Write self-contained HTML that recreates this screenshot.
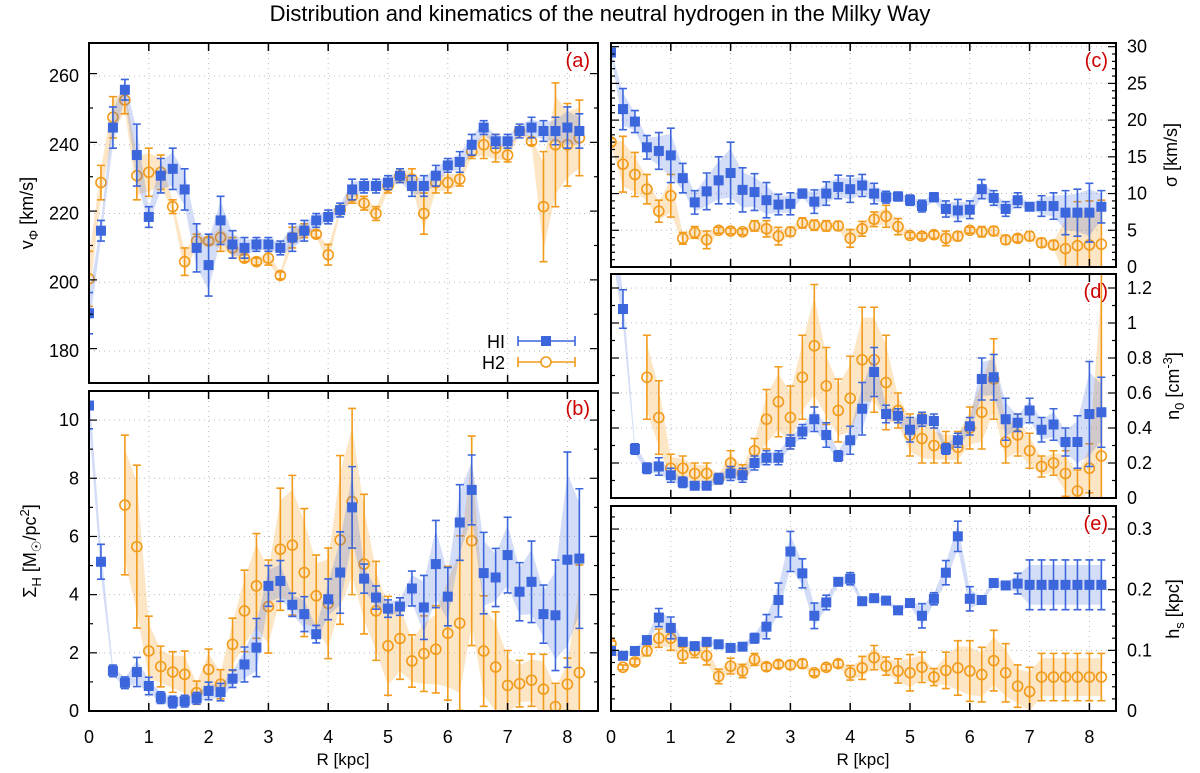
<!DOCTYPE html>
<html><head><meta charset="utf-8"><style>
html,body{margin:0;padding:0;background:#fff;width:1200px;height:773px;overflow:hidden;}
svg{display:block;font-family:"Liberation Sans",sans-serif;}
</style></head><body>
<svg id="chart" width="1200" height="773" viewBox="0 0 1200 773" xmlns="http://www.w3.org/2000/svg">
<text x="600" y="21" text-anchor="middle" font-size="22">Distribution and kinematics of the neutral hydrogen in the Milky Way</text>
<g id="root"></g>
<text x="343" y="765" text-anchor="middle" font-size="17">R [kpc]</text>
<text x="863" y="765" text-anchor="middle" font-size="17">R [kpc]</text>
</svg>
<script>
const R = [0,0.2,0.4,0.6,0.8,1.0,1.2,1.4,1.6,1.8,2.0,2.2,2.4,2.6,2.8,3.0,3.2,3.4,3.6,3.8,4.0,4.2,4.4,4.6,4.8,5.0,5.2,5.4,5.6,5.8,6.0,6.2,6.4,6.6,6.8,7.0,7.2,7.4,7.6,7.8,8.0,8.2];
const xTicks = [0,1,2,3,4,5,6,7,8];
// panel a
const vHI = [191,215,245,256,237,219,231,233,227,210,205,218,211,210,211,211,210,213,215,218,219,221,227,228,228,229,231,228,228,231,234,235,240,245,241,241,244,245,244,244,245,244];
const vHIe = [6,3,6,3,9,3,5,6,6,7,9,7,4,3,2,2,2,4,3,2,2,2,3,2,2,2,2,3,3,3,2,3,3,2,2,2,2,3,3,4,6,5];
const vH2 = [201,229,248,253,231,232,232,222,206,212,212,213,210,207,206,207,202,213,215,214,208,221,225,223,220,228,231,230,220,229,229,230,238,240,239,237,244,241,222,240,240,242];
const vH2e = [8,5,6,4,7,7,5,2,4,2,1,4,3,1,1,2,1,3,2,1,3,1,2,2,2,2,2,3,6,3,3,2,2,4,4,2,1,1,16,18,12,11];
const vTicks = [180,200,220,240,260];
// panel b
const sHI = [10.5,5.13,1.38,0.97,1.34,0.86,0.46,0.31,0.34,0.44,0.69,0.65,1.11,1.6,2.18,4.3,4.47,3.65,3.33,2.64,3.84,4.76,7.0,4.55,3.9,3.52,3.59,4.21,3.56,5.05,3.93,6.48,7.6,4.74,4.59,5.36,4.1,4.44,3.33,3.29,5.2,5.24];
const sHIe = [0.8,0.6,0.2,0.2,0.5,0.3,0.2,0.2,0.2,0.2,0.3,0.3,0.3,0.6,1.0,0.7,0.7,0.4,0.6,0.3,0.7,1.4,1.4,0.5,0.4,0.3,0.3,0.6,1.1,1.5,1.0,1.3,1.2,1.4,1.0,1.3,1.0,1.4,1.0,1.9,3.7,2.4];
const sH2 = [null,null,null,7.08,5.65,2.06,1.53,1.34,1.26,0.63,1.43,0.92,2.29,3.44,4.3,3.59,5.56,5.7,4.76,3.96,3.7,5.88,7.2,5.05,3.44,2.24,2.49,1.72,1.97,2.12,2.67,3.02,5.85,2.06,1.51,0.88,0.94,1.06,0.75,0.15,0.92,1.32];
const sH2e = [0,0,0,2.4,2.8,1.2,0.7,0.7,0.8,0.4,0.7,0.5,0.9,1.4,1.8,1.6,2.1,2.4,2.2,1.4,1.9,2.9,3.2,2.4,1.7,1.7,1.4,0.9,1.3,1.5,2.3,3.0,3.6,1.9,1.9,1.2,0.8,0.9,1.2,0.8,0.9,3.7];
const sTicks = [0,2,4,6,8,10];
// panel c
const dHI = [29.2,21.5,19.8,16.3,15.8,15.2,12.1,8.8,10.3,11.8,12.8,10.5,10.2,9.1,8.5,8.6,10,8.9,10,10.9,10.6,11.1,10,9.5,9.6,9.1,8.3,9.5,7.9,7.7,7.8,10.6,9.4,7.9,9.1,8.2,8.3,8.3,7.4,7.4,7.4,8.2];
const dHIe = [0.5,2.8,1.5,1.6,2.5,3.7,2.0,1.6,2.5,3.2,4.2,3.0,2.5,2.4,1.4,1.5,0.6,1.6,1.6,1.6,1.8,1.5,1.4,0.8,0.6,0.7,0.8,0.6,1.1,1.5,1.2,1.3,1.0,1.0,1.0,0.4,1.4,1.8,3.0,3.2,4.0,2.2];
const dH2 = [17,14,12.6,10.6,7.6,9.7,3.9,4.7,3.7,5,4.9,4.8,5.6,5.2,4.2,4.8,6,5.7,5.6,5.6,3.9,5.2,6.5,6.9,5.5,4.3,4.2,4.4,3.9,4.2,5,4.8,4.9,3.7,3.9,4.2,3.3,3,2.5,2.9,3,3.1];
const dH2e = [0.5,3.8,3.0,2.0,1.5,2.9,0.8,0.8,1.2,0.4,0.4,0.4,0.7,1.1,1.2,0.6,0.7,0.7,0.7,0.6,1.2,1.0,1.0,1.5,1.1,0.4,0.4,0.5,1.0,0.6,0.4,0.7,0.6,0.6,0.5,0.6,0.6,0.6,5,6,6,6];
const dTicks = [0,5,10,15,20,25,30];
// panel d
const nHI = [1.6,1.08,0.28,0.17,0.18,0.13,0.09,0.07,0.07,0.11,0.14,0.13,0.2,0.23,0.23,0.32,0.38,0.45,0.36,0.24,0.33,0.51,0.72,0.48,0.47,0.39,0.45,0.44,0.28,0.33,0.41,0.68,0.69,0.45,0.43,0.5,0.39,0.42,0.32,0.32,0.48,0.49];
const nHIe = [0.2,0.11,0.03,0.03,0.05,0.04,0.03,0.02,0.02,0.03,0.04,0.04,0.04,0.04,0.04,0.04,0.04,0.07,0.07,0.03,0.08,0.15,0.14,0.05,0.04,0.07,0.04,0.04,0.03,0.04,0.05,0.12,0.13,0.12,0.05,0.07,0.07,0.09,0.08,0.15,0.3,0.2];
const nH2 = [null,null,null,0.69,0.46,0.17,0.17,0.14,0.14,0.11,0.2,0.14,0.27,0.45,0.55,0.46,0.69,0.87,0.64,0.5,0.57,0.79,0.79,0.66,0.5,0.36,0.34,0.3,0.29,0.29,0.4,0.49,0.68,0.32,0.36,0.27,0.18,0.2,0.14,0.04,0.17,0.24];
const nH2e = [0,0,0,0.24,0.21,0.08,0.07,0.06,0.06,0.03,0.07,0.05,0.07,0.17,0.2,0.18,0.24,0.35,0.22,0.18,0.24,0.3,0.3,0.27,0.1,0.12,0.14,0.1,0.09,0.09,0.12,0.21,0.23,0.12,0.12,0.1,0.06,0.07,0.13,0.12,0.14,1.2];
const nTicks = [0,0.2,0.4,0.6,0.8,1,1.2];
// panel e
const hHI = [0.099,0.091,0.099,0.117,0.154,0.137,0.114,0.107,0.114,0.11,0.104,0.106,0.12,0.139,0.183,0.263,0.227,0.157,0.179,0.213,0.218,0.181,0.186,0.182,0.166,0.178,0.157,0.185,0.228,0.288,0.185,0.183,0.211,0.207,0.21,0.208,0.208,0.208,0.208,0.208,0.208,0.208];
const hHIe = [0.005,0.005,0.005,0.006,0.015,0.018,0.005,0.005,0.005,0.005,0.005,0.005,0.008,0.02,0.028,0.033,0.024,0.021,0.012,0.006,0.01,0.005,0.006,0.005,0.005,0.005,0.02,0.01,0.02,0.025,0.02,0.006,0.006,0.006,0.017,0.041,0.041,0.041,0.041,0.041,0.041,0.041];
const hH2 = [0.111,0.072,0.081,0.099,0.12,0.12,0.092,0.1,0.091,0.057,0.074,0.066,0.085,0.073,0.077,0.076,0.078,0.063,0.072,0.078,0.063,0.071,0.088,0.074,0.066,0.063,0.072,0.056,0.067,0.071,0.066,0.06,0.083,0.063,0.041,0.032,0.056,0.056,0.056,0.056,0.056,0.056];
const hH2e = [0.004,0.004,0.005,0.008,0.015,0.02,0.013,0.012,0.015,0.012,0.013,0.011,0.01,0.006,0.006,0.007,0.007,0.005,0.005,0.006,0.012,0.019,0.02,0.015,0.02,0.03,0.025,0.014,0.03,0.045,0.05,0.045,0.05,0.048,0.035,0.04,0.039,0.039,0.039,0.039,0.039,0.039];
const hTicks = [0,0.1,0.2,0.3];

const NS='http://www.w3.org/2000/svg';
const root=document.getElementById('root');
function mk(tag,attrs,parent){const e=document.createElementNS(NS,tag);for(const k in attrs)e.setAttribute(k,attrs[k]);(parent||root).appendChild(e);return e;}
const BLUE='#3c66dc', ORANGE='#f29a1a';
const KPX=59.8;
let clipId=0;
function panel(cfg){
  const {name,x0,x1,y0,y1,ymin,ymax,ticks,minor,side,label,fmt,s1,e1,s2,e2}=cfg;
  const g=mk('g',{});
  
  
  const xs=r=>x0+r*KPX;
  const ys=v=>y1-(v-ymin)/(ymax-ymin)*(y1-y0);
  const cid='clip'+(clipId++);
  const cp=mk('clipPath',{id:cid},g);mk('rect',{x:x0,y:y0,width:x1-x0,height:y1-y0},cp);
  xTicks.forEach(t=>{if(t>0)mk('line',{x1:xs(t),x2:xs(t),y1:y0,y2:y1,stroke:'#bbb','stroke-dasharray':'1,4','stroke-width':1},g);});
  ticks.forEach(t=>{const y=ys(t);if(y>y0+2&&y<y1-2)mk('line',{x1:x0,x2:x1,y1:y,y2:y,stroke:'#bbb','stroke-dasharray':'1,4','stroke-width':1},g);});
  const dg=mk('g',{'clip-path':'url(#'+cid+')'},g);
  function series(vals,errs,col,isSq,nm){
    const sg=mk('g',{},dg);
    
    
    let up=[],dn=[];
    vals.forEach((v,i)=>{if(v==null)return;const w=Math.max(errs[i]*0.8,0);up.push(xs(R[i])+','+ys(v+w));dn.unshift(xs(R[i])+','+ys(v-w));});
    const band=mk('polygon',{points:up.concat(dn).join(' '),fill:col,'fill-opacity':isSq?0.22:0.25,stroke:'none'},sg);
    
    
    vals.forEach((v,i)=>{
      if(v==null)return;
      const x=xs(R[i]),y=ys(v),ya=ys(v+errs[i]),yb=ys(v-errs[i]);
      const eb=mk('path',{d:`M${x},${ya}V${yb}M${x-4},${ya}H${x+4}M${x-4},${yb}H${x+4}`,stroke:col,'stroke-width':1.6,fill:'none'},sg);
      
      
      let m;
      if(isSq)m=mk('rect',{x:x-5,y:y-5,width:10,height:10,fill:col},sg);
      else m=mk('circle',{cx:x,cy:y,r:5,fill:'none',stroke:col,'stroke-width':1.6},sg);
      
      
    });
  }
  series(s2,e2,ORANGE,false,name+'-h2');
  series(s1,e1,BLUE,true,name+'-hi');
  mk('rect',{x:x0,y:y0,width:x1-x0,height:y1-y0,fill:'none',stroke:'#000','stroke-width':2},g);
  xTicks.forEach(t=>{const x=xs(t);mk('line',{x1:x,x2:x,y1:y0,y2:y0+8,stroke:'#000','stroke-width':1.5},g);mk('line',{x1:x,x2:x,y1:y1,y2:y1-8,stroke:'#000','stroke-width':1.5},g);});
  for(let v=ymin;v<=ymax+1e-9;v+=minor){const y=ys(v);if(y<y0||y>y1)continue;
    const maj=ticks.some(t=>Math.abs(t-v)<minor/10);const L=maj?8:4;
    mk('line',{x1:x0,x2:x0+L,y1:y,y2:y,stroke:'#000','stroke-width':1.2},g);
    mk('line',{x1:x1,x2:x1-L,y1:y,y2:y,stroke:'#000','stroke-width':1.2},g);}
  ticks.forEach(t=>{const y=ys(t);
    const tx=side==='left'?mk('text',{x:x0-10,y:y+6,'text-anchor':'end','font-size':18},g):mk('text',{x:x1+11,y:y+6,'text-anchor':'start','font-size':18},g);
    tx.textContent=fmt(t);
    
    });
  const lb=mk('text',{x:x1-8,y:y0+24,'text-anchor':'end','font-size':20,fill:'#cc0000'},g);
  lb.textContent=label;
  
  
}
const f0=t=>String(t);
const fd=t=>(t===0?'0':t===1?'1':String(+t.toFixed(2)));
panel({name:'panel-a-velocity',x0:89,x1:598,y0:43,y1:383,ymin:170.7,ymax:269.6,ticks:vTicks,minor:10,side:'left',label:'(a)',fmt:f0,s1:vHI,e1:vHIe,s2:vH2,e2:vH2e});
panel({name:'panel-b-surface-density',x0:89,x1:598,y0:391,y1:711,ymin:0,ymax:11.0,ticks:sTicks,minor:1,side:'left',label:'(b)',fmt:f0,s1:sHI,e1:sHIe,s2:sH2,e2:sH2e});
panel({name:'panel-c-dispersion',x0:611,x1:1116,y0:43,y1:267,ymin:0,ymax:30.5,ticks:dTicks,minor:1,side:'right',label:'(c)',fmt:f0,s1:dHI,e1:dHIe,s2:dH2,e2:dH2e});
panel({name:'panel-d-density',x0:611,x1:1116,y0:274,y1:498,ymin:0,ymax:1.28,ticks:nTicks,minor:0.1,side:'right',label:'(d)',fmt:fd,s1:nHI,e1:nHIe,s2:nH2,e2:nH2e});
panel({name:'panel-e-scale-height',x0:611,x1:1116,y0:506,y1:711,ymin:0,ymax:0.338,ticks:hTicks,minor:0.02,side:'right',label:'(e)',fmt:fd,s1:hHI,e1:hHIe,s2:hH2,e2:hH2e});
[[89,'x-tick-label-left'],[611,'x-tick-label-right']].forEach(([x0,nm])=>{
  xTicks.forEach(t=>{const tx=mk('text',{x:x0+t*KPX,y:743,'text-anchor':'middle','font-size':18});tx.textContent=String(t);
    
    });
});
const svg=document.getElementById('chart');
function t(html,name){svg.insertAdjacentHTML('beforeend',html);const e=svg.lastElementChild;}
t('<text x="0" y="0" font-size="18" transform="translate(33,213) rotate(-90)" text-anchor="middle">v<tspan font-size="13" dy="5">Φ</tspan><tspan dy="-5"> [km/s]</tspan></text>','y-axis-title-a');
t('<text x="0" y="0" font-size="18" transform="translate(36,551) rotate(-90)" text-anchor="middle">Σ<tspan font-size="13" dy="5">H</tspan><tspan dy="-5"> [M</tspan><tspan font-size="13" dy="5">☉</tspan><tspan dy="-5">/pc</tspan><tspan font-size="13" dy="-7">2</tspan><tspan dy="7">]</tspan></text>','y-axis-title-b');
t('<text x="0" y="0" font-size="18" transform="translate(1177,155) rotate(-90)" text-anchor="middle">σ [km/s]</text>','y-axis-title-c');
t('<text x="0" y="0" font-size="18" transform="translate(1179,386) rotate(-90)" text-anchor="middle">n<tspan font-size="13" dy="5">0</tspan><tspan dy="-5"> [cm</tspan><tspan font-size="13" dy="-7">-3</tspan><tspan dy="7">]</tspan></text>','y-axis-title-d');
t('<text x="0" y="0" font-size="18" transform="translate(1179,609) rotate(-90)" text-anchor="middle">h<tspan font-size="13" dy="5">s</tspan><tspan dy="-5"> [kpc]</tspan></text>','y-axis-title-e');
t('<g><text x="505" y="348" text-anchor="end" font-size="18">HI</text><path d="M518,341H575M518,336V346M575,336V346" stroke="#3c66dc" stroke-width="1.6" fill="none"/><rect x="541" y="336" width="10" height="10" fill="#3c66dc"/></g>','legend-entry-hi');
t('<g><text x="505" y="369" text-anchor="end" font-size="18">H2</text><path d="M518,362H575M518,357V367M575,357V367" stroke="#f29a1a" stroke-width="1.6" fill="none"/><circle cx="546" cy="362" r="5" fill="#fff" stroke="#f29a1a" stroke-width="1.6"/></g>','legend-entry-h2');
</script>
</body></html>
